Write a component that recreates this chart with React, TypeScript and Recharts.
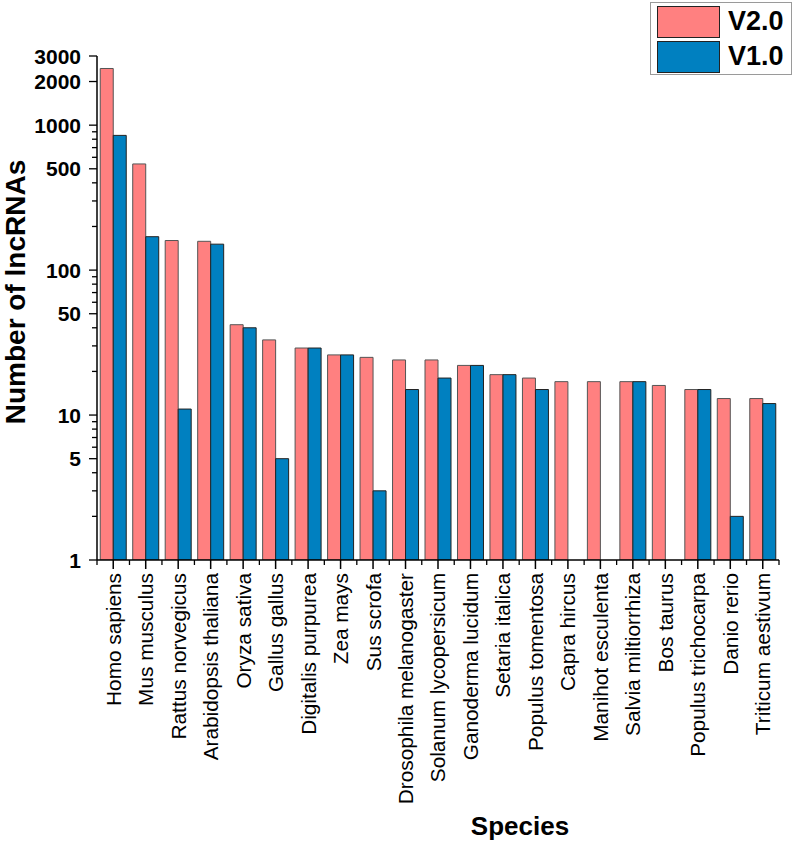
import React from 'react';
import { BarChart, Bar, XAxis, YAxis, Legend, Label } from 'recharts';

const categories = [
  'Homo sapiens', 'Mus musculus', 'Rattus norvegicus', 'Arabidopsis thaliana', 'Oryza sativa',
  'Gallus gallus', 'Digitalis purpurea', 'Zea mays', 'Sus scrofa', 'Drosophila melanogaster',
  'Solanum lycopersicum', 'Ganoderma lucidum', 'Setaria italica', 'Populus tomentosa', 'Capra hircus',
  'Manihot esculenta', 'Salvia miltiorrhiza', 'Bos taurus', 'Populus trichocarpa', 'Danio rerio',
  'Triticum aestivum',
];
const v2Values = [2460, 540, 160, 158, 42, 33, 29, 26, 25, 24, 24, 22, 19, 18, 17, 17, 17, 16, 15, 13, 13];
const v1Values: (number | null)[] = [850, 170, 11, 151, 40, 5, 29, 26, 3, 15, 18, 22, 19, 15, null, null, 17, null, 15, 2, 12];

const yTicks = [1, 2, 3, 4, 5, 6, 7, 8, 9, 10, 20, 30, 40, 50, 60, 70, 80, 90, 100, 200, 300, 400, 500, 600, 700, 800, 900, 1000, 2000, 3000];
const yLabeled = [1, 5, 10, 50, 100, 500, 1000, 2000, 3000];

const data = categories.map((name, i) => ({ name, v2: v2Values[i], v1: v1Values[i] }));

const FONT = '"Liberation Sans", Arial, sans-serif';
const PINK = '#FF8080';
const BLUE = '#0080C0';

const YTick = (props: any) => {
  const { x, y, payload } = props;
  const labeled = yLabeled.includes(payload.value);
  const len = labeled ? 8 : 5;
  return (
    <g>
      <line x1={x - len} y1={y} x2={x} y2={y} stroke="#000" strokeWidth={1.3} />
      {labeled && (
        <text x={x - 16} y={y} dy="0.36em" textAnchor="end" fontFamily={FONT} fontWeight="bold" fontSize={21} fill="#000">
          {payload.value}
        </text>
      )}
    </g>
  );
};

const XTick = (props: any) => {
  const { x, y, payload } = props;
  const off = payload.offset ?? 16;
  return (
    <g>
      <line x1={x} y1={y} x2={x} y2={y + 9} stroke="#000" strokeWidth={1.5} />
      <line x1={x + off} y1={y} x2={x + off} y2={y + 5} stroke="#000" strokeWidth={1.3} />
      {payload.index === 0 && <line x1={x - off} y1={y} x2={x - off} y2={y + 5} stroke="#000" strokeWidth={1.3} />}
      <text
        x={x}
        y={y + 13}
        transform={`rotate(-90, ${x}, ${y + 13})`}
        textAnchor="end"
        dy="0.36em"
        fontFamily={FONT}
        fontSize={20.8}
        fill="#000"
      >
        {payload.value}
      </text>
    </g>
  );
};

const LegendBox = () => (
  <div
    style={{
      width: 142,
      height: 73,
      border: '1px solid #9a9a9a',
      background: '#fff',
      boxSizing: 'border-box',
      padding: '2px 0 0 6px',
      fontFamily: FONT,
    }}
  >
    {[
      { label: 'V2.0', color: PINK },
      { label: 'V1.0', color: BLUE },
    ].map((it) => (
      <div key={it.label} style={{ display: 'flex', alignItems: 'center', height: 33, marginBottom: 2 }}>
        <div style={{ width: 63, height: 32, background: it.color, border: '1px solid #222', boxSizing: 'border-box' }} />
        <span style={{ marginLeft: 8, fontSize: 27, fontWeight: 'bold', color: '#000' }}>{it.label}</span>
      </div>
    ))}
  </div>
);

export default function App() {
  return (
    <div style={{ position: 'absolute', left: 0, top: 0, width: 795, height: 843, background: '#fff' }}>
      <BarChart
        width={795}
        height={843}
        data={data}
        margin={{ top: 56, right: 16, bottom: 0, left: 0 }}
        barCategoryGap="10%"
        barGap={0}
      >
        <XAxis
          dataKey="name"
          interval={0}
          height={283}
          tickSize={0}
          tickMargin={0}
          tick={<XTick />}
          axisLine={{ stroke: '#000', strokeWidth: 1.5 }}
          tickLine={false}
        >
          <Label
            content={(p: any) => {
              const vb = p.viewBox;
              return (
                <text
                  x={vb.x + vb.width / 2 + 82}
                  y={826}
                  dy="0.36em"
                  textAnchor="middle"
                  fontFamily={FONT}
                  fontWeight="bold"
                  fontSize={26}
                  fill="#000"
                >
                  Species
                </text>
              );
            }}
          />
        </XAxis>
        <YAxis
          scale="log"
          domain={[1, 3000]}
          allowDataOverflow
          ticks={yTicks}
          interval={0}
          width={97}
          tickSize={0}
          tickMargin={0}
          tick={<YTick />}
          axisLine={{ stroke: '#000', strokeWidth: 1.5 }}
          tickLine={false}
        >
          <Label
            content={(p: any) => {
              const vb = p.viewBox;
              const cx = 15;
              const cy = vb.y + vb.height / 2 - 16;
              return (
                <text
                  x={cx}
                  y={cy}
                  transform={`rotate(-90, ${cx}, ${cy})`}
                  dy="0.36em"
                  textAnchor="middle"
                  fontFamily={FONT}
                  fontWeight="bold"
                  fontSize={28}
                  fill="#000"
                >
                  Number of lncRNAs
                </text>
              );
            }}
          />
        </YAxis>
        <Legend
          layout="vertical"
          align="center"
          verticalAlign="middle"
          content={() => <LegendBox />}
          wrapperStyle={{ position: 'absolute', top: 2, left: 650, width: 142, height: 73 }}
        />
        <Bar dataKey="v2" name="V2.0" fill={PINK} stroke="#555" strokeWidth={1} isAnimationActive={false} />
        <Bar dataKey="v1" name="V1.0" fill={BLUE} stroke="#222" strokeWidth={1} isAnimationActive={false} />
      </BarChart>
    </div>
  );
}
